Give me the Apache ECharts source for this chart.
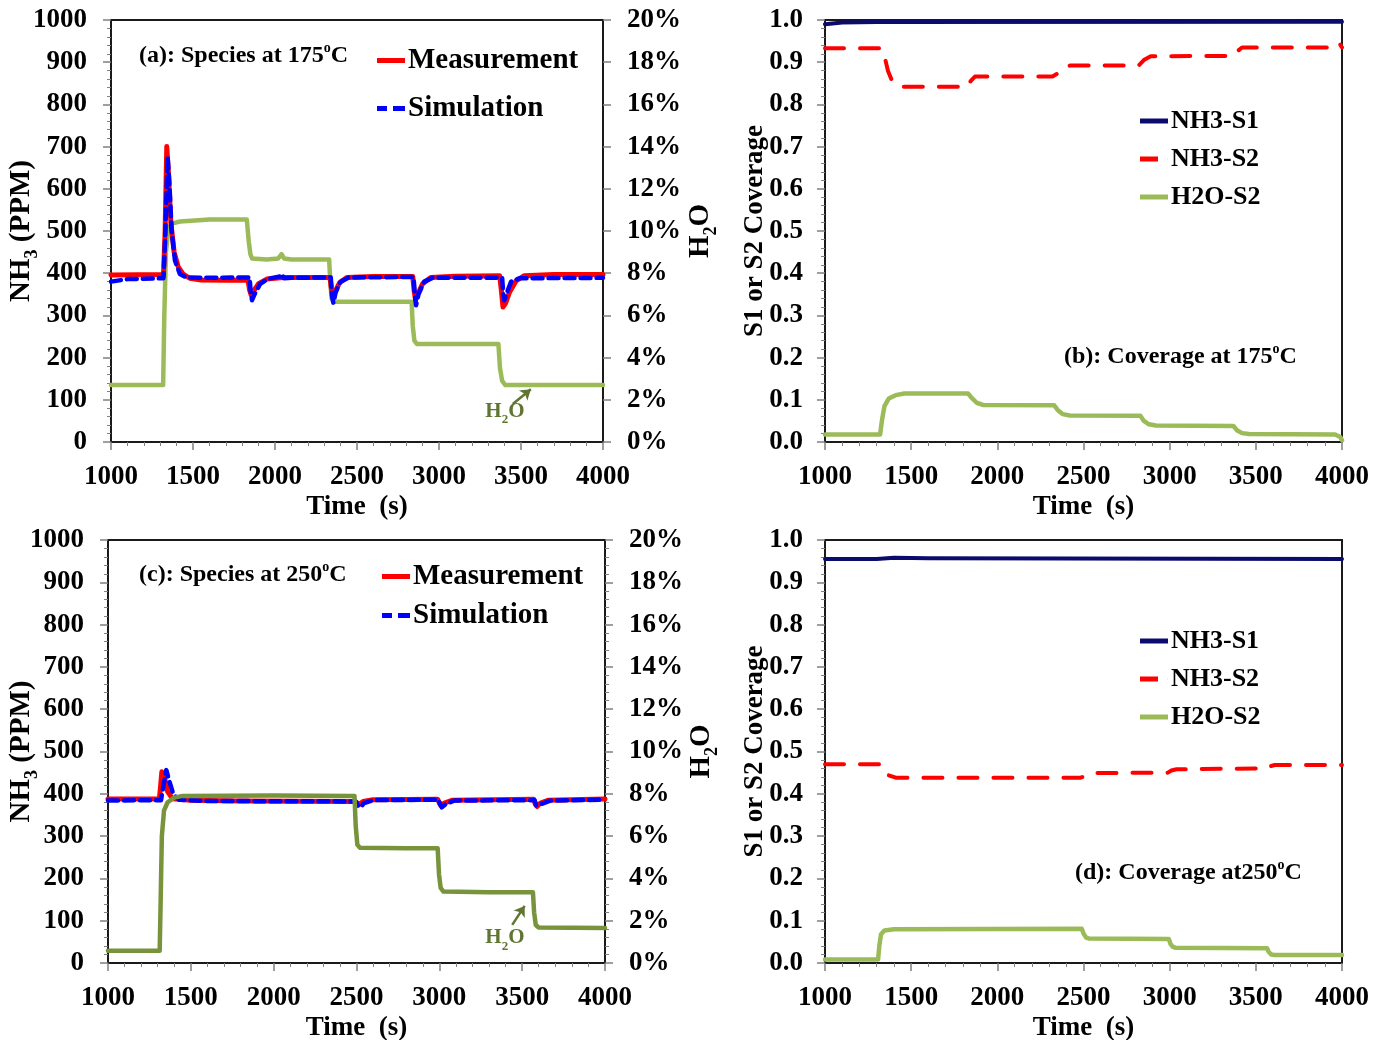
<!DOCTYPE html>
<html>
<head>
<meta charset="utf-8">
<script src="https://cdn.jsdelivr.net/npm/echarts@6/dist/echarts.min.js"></script>
<style>
  html, body { margin: 0; padding: 0; background: #fff; }
  #chart { width: 1383px; height: 1040px; }
</style>
</head>
<body>
<div id="chart"></div>
<script>
// ---- Panel (a): species at 175 °C  (time s, NH3 ppm / H2O %) ----
const measA = [[1000,396],[1320,397],[1330,500],[1340,700],[1350,640],[1365,520],[1385,450],[1410,415],[1440,398],[1480,388],[1550,384],[1700,383],[1835,384],[1845,360],[1855,348],[1870,358],[1900,375],[1950,386],[2050,390],[2200,390],[2335,390],[2345,360],[2352,344],[2365,355],[2395,378],[2440,390],[2600,392],[2840,392],[2848,360],[2857,336],[2870,350],[2900,375],[2950,390],[3100,393],[3370,394],[3380,360],[3390,320],[3405,328],[3430,355],[3470,382],[3520,394],[3700,397],[4000,397]];
const simA = [[1000,380],[1100,386],[1320,388],[1330,480],[1345,676],[1355,620],[1370,500],[1390,430],[1420,398],[1460,390],[1600,389],[1845,390],[1852,355],[1860,336],[1875,350],[1910,375],[1960,387],[2030,392],[2040,398],[2055,388],[2100,389],[2340,390],[2348,345],[2356,329],[2370,355],[2400,380],[2450,390],[2845,391],[2852,350],[2860,324],[2875,350],[2910,380],[2960,389],[3385,389],[3392,350],[3398,336],[3410,350],[3440,380],[3490,388],[4000,389]];
const h2oA = [[1000,2.7],[1318,2.7],[1325,6.0],[1335,9.0],[1350,10.1],[1370,10.35],[1420,10.45],[1600,10.55],[1828,10.55],[1840,9.5],[1850,8.9],[1860,8.7],[1950,8.65],[2020,8.7],[2040,8.9],[2055,8.7],[2100,8.65],[2330,8.65],[2338,7.5],[2345,6.8],[2360,6.65],[2600,6.65],[2833,6.65],[2840,5.5],[2850,4.8],[2865,4.65],[3100,4.65],[3362,4.65],[3372,3.5],[3385,2.9],[3405,2.7],[4000,2.7]];

// ---- Panel (b): coverage at 175 °C ----
const s1B = [[1000,0.990],[1100,0.994],[1300,0.995],[4000,0.996]];
const s2B = [[1000,0.933],[1330,0.933],[1345,0.915],[1365,0.88],[1390,0.855],[1430,0.842],[1830,0.842],[1845,0.855],[1870,0.866],[2320,0.866],[2345,0.872],[2385,0.888],[2420,0.892],[2820,0.892],[2850,0.905],[2890,0.914],[3370,0.915],[3390,0.925],[3420,0.935],[3960,0.935],[3985,0.945],[4000,0.935]];
const h2oB = [[1000,0.018],[1320,0.018],[1330,0.05],[1345,0.085],[1370,0.103],[1410,0.111],[1460,0.115],[1830,0.115],[1850,0.105],[1880,0.093],[1920,0.0875],[2330,0.087],[2350,0.076],[2380,0.066],[2420,0.063],[2830,0.062],[2850,0.05],[2880,0.042],[2920,0.039],[3370,0.038],[3390,0.028],[3420,0.021],[3460,0.019],[3960,0.018],[3990,0.012],[4000,0.004]];

// ---- Panel (c): species at 250 °C ----
const measC = [[1000,388],[1310,388],[1318,420],[1325,452],[1340,440],[1360,405],[1390,388],[1500,385],[1800,383],[2490,382],[2505,378],[2520,376],[2540,382],[2600,386],[2990,387],[3000,378],[3010,372],[3030,378],[3080,385],[3570,387],[3580,375],[3590,370],[3610,378],[3660,385],[4000,388]];
const simC = [[1000,384],[1320,385],[1335,420],[1352,456],[1370,430],[1395,398],[1430,386],[1600,383],[2495,382],[2510,372],[2525,368],[2545,378],[2600,385],[2995,386],[3005,375],[3015,368],[3040,376],[3090,384],[3575,385],[3585,372],[3595,368],[3615,376],[3670,384],[4000,386]];
const h2oC = [[1000,0.58],[1312,0.58],[1318,3.0],[1325,6.0],[1338,7.2],[1360,7.6],[1400,7.82],[1450,7.9],[2000,7.92],[2488,7.9],[2495,6.5],[2505,5.6],[2520,5.45],[2800,5.42],[2990,5.42],[2998,4.2],[3008,3.55],[3025,3.38],[3300,3.35],[3565,3.35],[3572,2.4],[3582,1.8],[3600,1.68],[4000,1.65]];

// ---- Panel (d): coverage at 250 °C ----
const s1D = [[1000,0.955],[1300,0.955],[1400,0.958],[1600,0.957],[4000,0.955]];
const s2D = [[1000,0.470],[1320,0.470],[1335,0.466],[1360,0.445],[1410,0.438],[2480,0.438],[2510,0.441],[2550,0.449],[2990,0.450],[3010,0.455],[3040,0.458],[3560,0.460],[3580,0.465],[3610,0.468],[4000,0.468]];
const h2oD = [[1000,0.008],[1308,0.008],[1315,0.04],[1325,0.068],[1345,0.077],[1400,0.080],[2490,0.081],[2500,0.07],[2515,0.06],[2530,0.058],[2995,0.057],[3005,0.045],[3018,0.038],[3035,0.036],[3565,0.035],[3575,0.026],[3590,0.02],[3610,0.019],[4000,0.019]];

// Tick settings
const timeMin = 1000, timeMax = 4000, timeStep = 500;
const ppmMax = 1000, ppmStep = 100;
const pctMax = 20, pctStep = 2;
const covMax = 1, covStep = 0.1;

const FONT = '"Liberation Serif", "Times New Roman", serif';
const RED = '#ff0000', BLUE = '#0000ff', GREEN = '#9bbb59', DKGREEN = '#77933c', NAVY = '#0b0b6e', NOTE = '#5f7530';

// Legend glyphs: solid bar, dash-gap-dash, single short dash
const ICON_SOLID = 'path://M0,0H28V5H0Z';
const ICON_DASH2 = 'path://M0,0H10V5H0Z M16,0H28V5H16Z';
const ICON_DASH1 = 'path://M0,0H18V5H0Z M27.8,2H28V3H27.8Z';

const chart = echarts.init(document.getElementById('chart'), null, { renderer: 'canvas' });

const tickLabel = { fontFamily: FONT, fontWeight: 'bold', fontSize: 27, color: '#000' };
const axisLineStyle = { show: true, lineStyle: { color: '#1a1a1a', width: 2 } };
const tickStyle = { show: true, inside: false, length: 8, lineStyle: { color: '#808080', width: 1.5 } };
const minorStyle = { show: true, splitNumber: 5, length: 4, lineStyle: { color: '#808080', width: 1 } };

function timeAxis(grid) {
  return {
    type: 'value', gridIndex: grid, min: timeMin, max: timeMax, interval: timeStep,
    axisLine: axisLineStyle, axisTick: tickStyle, minorTick: minorStyle,
    splitLine: { show: false },
    axisLabel: Object.assign({ margin: 22, formatter: v => String(v) }, tickLabel),
    name: 'Time  (s)', nameLocation: 'middle', nameGap: 52, nameMoveOverlap: false,
    nameTextStyle: { fontFamily: FONT, fontWeight: 'bold', fontSize: 27, color: '#000' }
  };
}

const subRich = (size) => ({
  a: { fontFamily: FONT, fontWeight: 'bold', fontSize: size, color: '#000', lineHeight: size + 10 },
  s: { fontFamily: FONT, fontWeight: 'bold', fontSize: Math.round(size * 0.62), color: '#000', lineHeight: size + 10, verticalAlign: 'bottom' }
});

function ppmAxis(grid, gap) {
  return {
    type: 'value', gridIndex: grid, min: 0, max: ppmMax, interval: ppmStep, position: 'left',
    axisLine: axisLineStyle, axisTick: tickStyle, minorTick: minorStyle,
    splitLine: { show: false },
    axisLabel: Object.assign({ margin: 24, formatter: v => String(v) }, tickLabel),
    name: '{a|NH}{s|3}{a| (PPM)}', nameLocation: 'middle', nameGap: gap, nameRotate: 90, nameMoveOverlap: false,
    nameTextStyle: { rich: subRich(29) }
  };
}

function pctAxis(grid, gap, minor) {
  return {
    type: 'value', gridIndex: grid, min: 0, max: pctMax, interval: pctStep, position: 'right',
    axisLine: axisLineStyle, axisTick: tickStyle,
    minorTick: minor ? minorStyle : { show: false },
    splitLine: { show: false },
    axisLabel: Object.assign({ margin: 24, formatter: '{value}%' }, tickLabel),
    name: '{a|H}{s|2}{a|O}', nameLocation: 'middle', nameGap: gap, nameRotate: 90, nameMoveOverlap: false,
    nameTextStyle: { rich: subRich(29) }
  };
}

function covAxis(grid) {
  return {
    type: 'value', gridIndex: grid, min: 0, max: covMax, interval: covStep, position: 'left',
    axisLine: axisLineStyle, axisTick: tickStyle, minorTick: minorStyle,
    splitLine: { show: false },
    axisLabel: Object.assign({ margin: 22, formatter: v => v.toFixed(1) }, tickLabel),
    name: 'S1 or S2 Coverage', nameLocation: 'middle', nameGap: 56, nameRotate: 90, nameMoveOverlap: false,
    nameTextStyle: { fontFamily: FONT, fontWeight: 'bold', fontSize: 27, color: '#000' }
  };
}

function line(name, data, xi, yi, color, width, dash, z) {
  return {
    type: 'line', name, data, xAxisIndex: xi, yAxisIndex: yi,
    symbol: 'none', showSymbol: false, smooth: false, z: z || 3,
    lineStyle: { color, width, type: dash || 'solid', cap: 'round', join: 'round' },
    itemStyle: { color }
  };
}

function subtitle(prefix, temp, left, top) {
  return {
    text: '{t|' + prefix + temp + '}{o|o}{t|C}', left, top, padding: 0,
    textStyle: {
      rich: {
        t: { fontFamily: FONT, fontWeight: 'bold', fontSize: 24, color: '#000', lineHeight: 30 },
        o: { fontFamily: FONT, fontWeight: 'bold', fontSize: 14, color: '#000', lineHeight: 30, verticalAlign: 'top' }
      }
    }
  };
}

function legend(items, left, top, size, gap) {
  return {
    data: items, left, top, orient: 'vertical', itemWidth: 28, itemHeight: 5, itemGap: gap,
    padding: 0, selectedMode: false,
    textStyle: { fontFamily: FONT, fontWeight: 'bold', fontSize: size, color: '#000', padding: [0, 0, 0, -2] }
  };
}

// H2O annotation: label plus arrow pointing at the water trace
function h2oNote(textAt, from, to) {
  return {
    markPoint: {
      silent: true, symbol: 'circle', symbolSize: 0,
      data: [{ coord: textAt }],
      label: {
        show: true, position: 'inside', formatter: '{a|H}{s|2}{a|O}',
        rich: {
          a: { fontFamily: FONT, fontWeight: 'bold', fontSize: 21, color: NOTE, lineHeight: 30 },
          s: { fontFamily: FONT, fontWeight: 'bold', fontSize: 13, color: NOTE, lineHeight: 30, verticalAlign: 'bottom' }
        }
      }
    },
    markLine: {
      silent: true, symbol: ['none', 'arrow'], symbolSize: [10, 10],
      lineStyle: { color: NOTE, width: 2.5, type: 'solid' },
      label: { show: false },
      data: [[{ coord: from }, { coord: to }]]
    }
  };
}

const seriesH2OA = Object.assign(line('H2O', h2oA, 0, 1, GREEN, 4.5), h2oNote([3402, 1.45], [3450, 1.8], [3560, 2.5]));
const seriesH2OC = Object.assign(line('H2O ', h2oC, 2, 4, DKGREEN, 4.5, null, 4), h2oNote([3396, 1.18], [3440, 1.8], [3515, 2.7]));

const speciesLegend = [{ name: 'Measurement', icon: ICON_SOLID }, { name: 'Simulation', icon: ICON_DASH2 }];
const coverageLegend = [{ name: 'NH3-S1', icon: ICON_SOLID }, { name: 'NH3-S2', icon: ICON_DASH1 }, { name: 'H2O-S2', icon: ICON_SOLID }];

const gridBase = { show: true, borderColor: '#1a1a1a', borderWidth: 2, backgroundColor: 'transparent', outerBoundsMode: 'none', containLabel: false };

const option = {
  animation: false,
  backgroundColor: '#fff',
  grid: [
    Object.assign({ left: 111, top: 20, width: 492, height: 422 }, gridBase),
    Object.assign({ left: 825, top: 20, width: 517, height: 422 }, gridBase),
    Object.assign({ left: 108, top: 540, width: 497, height: 423 }, gridBase),
    Object.assign({ left: 825, top: 540, width: 517, height: 423 }, gridBase)
  ],
  xAxis: [timeAxis(0), timeAxis(1), timeAxis(2), timeAxis(3)],
  yAxis: [
    ppmAxis(0, 70),
    pctAxis(0, 78, false),
    covAxis(1),
    ppmAxis(2, 67),
    pctAxis(2, 77, true),
    covAxis(3)
  ],
  title: [
    subtitle('(a): Species at ', '175', 139, 41),
    subtitle('(b): Coverage at ', '175', 1064, 342),
    subtitle('(c): Species at ', '250', 139, 560),
    subtitle('(d): Coverage at', '250', 1075, 858)
  ],
  legend: [
    legend(speciesLegend, 377, 46, 29, 19),
    legend(coverageLegend, 1140, 108, 26, 12),
    legend(speciesLegend, 382, 562, 29, 10),
    legend(coverageLegend, 1140, 628, 26, 12)
  ],
  series: [
    seriesH2OA,
    line('Measurement', measA, 0, 0, RED, 5),
    line('Simulation', simA, 0, 0, BLUE, 4.5, [10, 6]),

    line('NH3-S1', s1B, 1, 2, NAVY, 4),
    line('NH3-S2', s2B, 1, 2, RED, 4, [19, 16]),
    line('H2O-S2', h2oB, 1, 2, GREEN, 4.5),

    seriesH2OC,
    line('Measurement', measC, 2, 3, RED, 5),
    line('Simulation', simC, 2, 3, BLUE, 4.5, [10, 6]),

    line('NH3-S1', s1D, 3, 5, NAVY, 4),
    line('NH3-S2', s2D, 3, 5, RED, 4, [19, 16]),
    line('H2O-S2', h2oD, 3, 5, GREEN, 4.5)
  ]
};

chart.setOption(option);
</script>
</body>
</html>
